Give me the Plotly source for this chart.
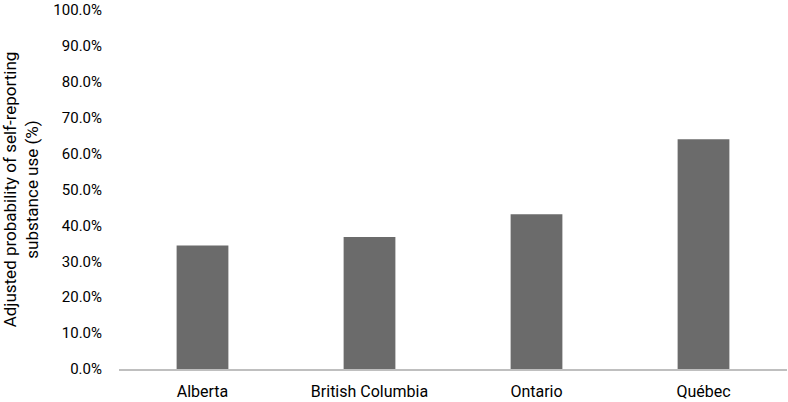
import plotly.graph_objects as go

# values
provinces = ["Alberta", "British Columbia", "Ontario", "Québec"]
adjusted_prob = [0.344, 0.368, 0.431, 0.640]
y_ticks = [0.0, 0.1, 0.2, 0.3, 0.4, 0.5, 0.6, 0.7, 0.8, 0.9, 1.0]
y_title = "Adjusted probability of self-reporting<br>substance use (%)"

fig = go.Figure()

fig.add_trace(go.Bar(
    x=provinces,
    y=adjusted_prob,
    marker=dict(color="#6b6b6b", line=dict(width=0)),
    width=0.31,
    hoverinfo="x+y",
))

fig.update_layout(
    width=788,
    height=402,
    paper_bgcolor="white",
    plot_bgcolor="white",
    showlegend=False,
    font=dict(family="Roboto, Arial, sans-serif", size=16, color="#000000"),
    margin=dict(l=119, r=1, t=8, b=31),
)

fig.update_xaxes(
    showline=True,
    linecolor="#bfbfbf",
    linewidth=1.5,
    showgrid=False,
    ticks="",
    ticklen=0,
    tickfont=dict(size=16),
    ticklabelstandoff=7,
    range=[-0.5, 3.5],
)

fig.update_yaxes(
    range=[0, 1],
    tickvals=y_ticks,
    tickformat=".1%",
    showgrid=False,
    zeroline=False,
    showline=False,
    ticks="",
    tickfont=dict(size=15),
    ticklabelstandoff=16,
    ticklabeloverflow="allow",
    title=dict(text=y_title, font=dict(size=17), standoff=15),
)

# page body has an 8px default margin; drop it so the chart fills the window
fig.write_html(
    "out.html",
    config={"displayModeBar": False},
    post_script="document.body.style.margin='0';",
)
